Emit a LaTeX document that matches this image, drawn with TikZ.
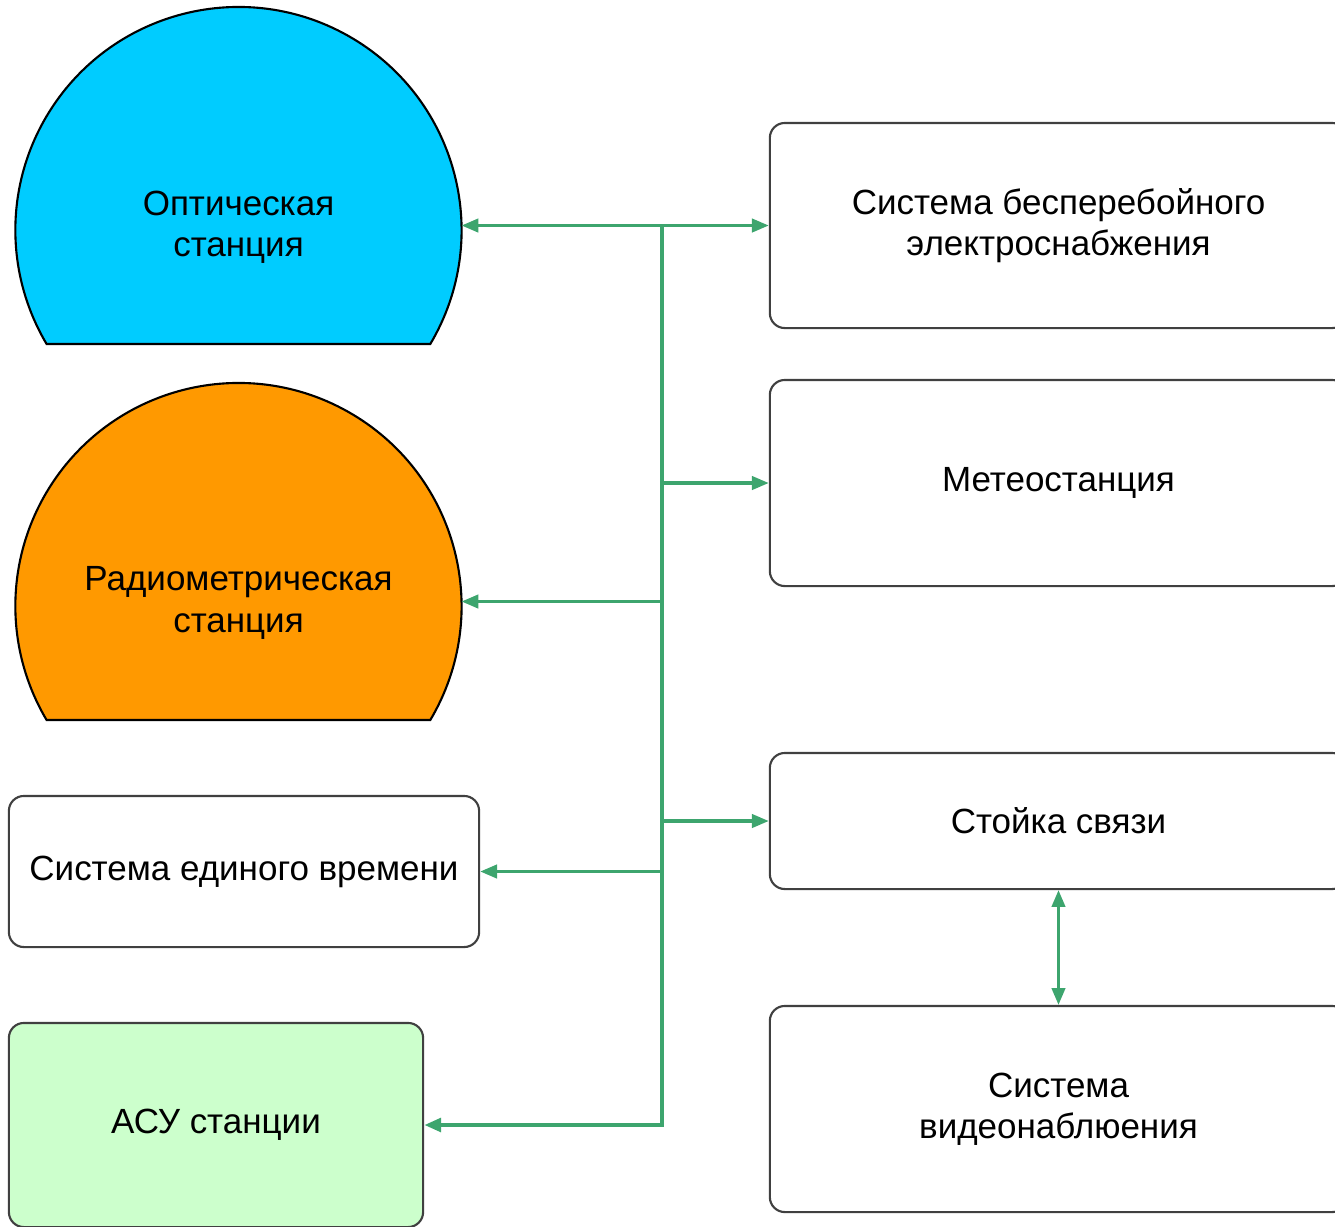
\documentclass[tikz,border=0pt]{standalone}
\usepackage{fontspec}
\setmainfont{Liberation Sans}
\usetikzlibrary{arrows.meta,calc,positioning}
\definecolor{optblue}{HTML}{00CCFF}
\definecolor{radorange}{HTML}{FF9900}
\definecolor{asugreen}{HTML}{CCFFCC}
\definecolor{linkgreen}{HTML}{3DA56E}
\tikzset{
	txt/.style={align=center,font=\fontsize{9.95pt}{11.7pt}\selectfont},
	box/.style={txt,draw=black!75,line width=0.6pt,rounded corners=0.15cm,fill=#1},
	box/.default=white,
	domeline/.style={draw=black,line width=0.6pt},
	conn/.style={draw=linkgreen,line width=0.9pt,-{Triangle[length=4.8pt,width=3.8pt]}},
	both/.style={conn,{Triangle[length=4.8pt,width=3.8pt]}-{Triangle[length=4.8pt,width=3.8pt]}}
}
\newcommand{\dome}[5]{% name, x, y, colour, text
	\draw[domeline,fill=#4] ($(#2,#3)+(191.8,114)$) arc[start angle=-30.7,end angle=210.7,radius=2.23cm] -- cycle;
	\node[txt] (#1) at ($(#2,#3)+(0,-3)$) {#5};
	\coordinate (#1-e) at ($(#2,#3)+(223,-4.5)$);}

\begin{document}
\begin{tikzpicture}[x=0.01cm,y=-0.01cm]
	\useasboundingbox (0,0) rectangle (1335,1226);
	\clip (0,0) rectangle (1335,1226);

	\dome{opt}{238.5}{230}{optblue}{Оптическая\\станция}
	\dome{rad}{238.5}{606}{radorange}{Радиометрическая\\станция}

	\node[box,minimum width=4.70cm,minimum height=1.51cm] (sev) at (244,871.5) {Система единого времени};
	\node[box=asugreen,minimum width=4.14cm,minimum height=2.04cm] (asu) at (216,1125) {АСУ станции};

	\node[box,minimum width=5.77cm,minimum height=2.05cm] (ups) at (1058.5,225.5) {Система бесперебойного\\электроснабжения};
	\node[box,minimum width=5.77cm,minimum height=2.06cm] (meteo) at (1058.5,483) {Метеостанция};
	\node[box,minimum width=5.77cm,minimum height=1.36cm] (comm) at (1058.5,821) {Стойка связи};
	\node[box,minimum width=5.77cm,minimum height=2.06cm] (video) at (1058.5,1109) {Система\\видеонаблюения};

	\coordinate (t1) at (662,225.5);

	% trunk
	\draw[conn,line width=1.2pt] (t1) -- (t1 |- asu.east) -- (asu.east);
	\draw[both] (opt-e) -- (ups.west);
	\draw[conn] (t1 |- meteo.west) -- (meteo.west);
	\draw[conn] (t1 |- rad-e) -- (rad-e);
	\draw[conn] (t1 |- comm.west) -- (comm.west);
	\draw[conn] (t1 |- sev.east) -- (sev.east);
	\draw[both] (comm.south) -- (video.north);
\end{tikzpicture}
\end{document}
